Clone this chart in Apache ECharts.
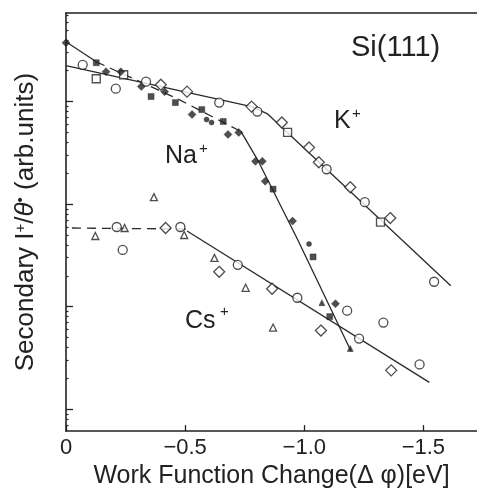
<!DOCTYPE html>
<html><head><meta charset="utf-8">
<script src="https://cdn.jsdelivr.net/npm/echarts@6/dist/echarts.min.js"></script>
<style>html,body{margin:0;padding:0;background:#fff}#c{width:477px;height:494px}</style>
</head><body><div id="c"></div>
<script>
// ---- axis ticks ----
const xTicks = [0, -0.5, -1.0, -1.5];
const xTickLabels = ['0', '\u22120.5', '\u22121.0', '\u22121.5'];
const yMajorTicks = [0, 1, 2, 3];   // decades (log scale, unlabeled)

// ---- K+ (open markers) ----
const kCircle  = [[-0.070,3.359],[-0.209,3.126],[-0.336,3.194],[-0.643,2.990],[-0.803,2.903],[-1.094,2.340],[-1.254,2.019],[-1.545,1.243]];
const kDiamond = [[-0.398,3.165],[-0.508,3.097],[-0.779,2.951],[-0.906,2.796],[-1.020,2.553],[-1.061,2.408],[-1.193,2.165],[-1.361,1.864]];
const kSquare  = [[-0.127,3.223],[-0.242,3.262],[-0.930,2.699],[-1.320,1.825]];
const kLine    = [[0,3.350],[-0.779,2.951],[-0.844,2.883],[-1.615,1.204]];

// ---- Na+ (filled markers) ----
const naDiamond  = [[0.0,3.573],[-0.168,3.291],[-0.230,3.291],[-0.316,3.146],[-0.414,3.097],[-0.529,2.874],[-0.680,2.680],[-0.725,2.699],[-0.795,2.417],[-0.824,2.417],[-0.836,2.223],[-0.951,1.835],[-1.131,1.029]];
const naSquare   = [[-0.127,3.379],[-0.357,3.049],[-0.459,2.990],[-0.570,2.922],[-0.660,2.806],[-0.869,2.146],[-1.037,1.485],[-1.107,0.903]];
const naDot      = [[-0.590,2.825],[-0.611,2.796],[-1.020,1.612]];
const naTriangle = [[-1.074,1.039],[-1.193,0.592]];
const naLineTop    = [[0,3.583],[-0.127,3.388]];
const naLineDashed = [[-0.127,3.388],[-0.467,3.029],[-0.734,2.709]];
const naLineSteep  = [[-0.734,2.709],[-0.803,2.437],[-0.971,1.660],[-1.197,0.563]];

// ---- Cs+ (open markers) ----
const csTriangle = [[-0.369,2.068],[-0.123,1.689],[-0.246,1.767],[-0.496,1.699],[-0.623,1.476],[-0.754,1.184],[-0.869,0.796]];
const csCircle   = [[-0.213,1.777],[-0.238,1.553],[-0.480,1.777],[-0.721,1.408],[-0.971,1.087],[-1.180,0.961],[-1.332,0.845],[-1.484,0.437],[-1.230,0.689]];
const csDiamond  = [[-0.418,1.767],[-0.643,1.340],[-0.865,1.175],[-1.070,0.767],[-1.365,0.379]];
const csLineDashed = [[-0.025,1.767],[-0.508,1.757]];
const csLineSolid  = [[-0.508,1.738],[-1.525,0.262]];

const INK = '#222';
const FONT = 'Liberation Sans, Arial, sans-serif';
const X_MIN = -1.725, Y_MIN = -0.2136, Y_MAX = 3.864;

const yMinorTicks = [];
for (let n = -1; n <= 3; n++) for (let k = 2; k <= 9; k++) {
  const v = n + Math.log10(k);
  if (v > Y_MIN && v < Y_MAX) yMinorTicks.push(v);
}

function openScatter(data, symbol, size) {
  return { type: 'scatter', data, symbol, symbolSize: size, z: 5,
    itemStyle: { color: '#fff', borderColor: INK, borderWidth: 1.3 } };
}
function filledScatter(data, symbol, size) {
  return { type: 'scatter', data, symbol, symbolSize: size, z: 6,
    itemStyle: { color: INK, borderColor: INK, borderWidth: 0.5 } };
}
function line(data, dashed) {
  return { type: 'line', data, symbol: 'none', z: 3, silent: true,
    lineStyle: { color: '#2a2a2a', width: 1.3, type: dashed ? [9, 6] : 'solid' } };
}

const chart = echarts.init(document.getElementById('c'));
chart.setOption({
  animation: false,
  backgroundColor: '#fff',
  grid: { left: 66, right: -10, top: 13, bottom: 61, containLabel: false },
  xAxis: [
    { type: 'value', min: X_MIN, max: 0, inverse: true, position: 'bottom',
      axisLine: { show: true, onZero: false, lineStyle: { color: INK, width: 1.6 } },
      axisTick: { show: true, inside: true, length: 6, customValues: xTicks, lineStyle: { color: INK, width: 1.3 } },
      axisLabel: { customValues: xTicks, margin: 6, fontSize: 22, color: INK, fontFamily: FONT,
        formatter: v => { const i = xTicks.findIndex(t => Math.abs(t - v) < 1e-9); return i >= 0 ? xTickLabels[i] : ''; } },
      splitLine: { show: false },
      name: 'Work Function Change(\u0394 \u03c6)[eV]', nameLocation: 'middle', nameGap: 30,
      nameTextStyle: { fontSize: 25, color: INK, fontFamily: FONT } },
    { type: 'value', min: X_MIN, max: 0, inverse: true, position: 'top',
      axisLine: { show: true, onZero: false, lineStyle: { color: INK, width: 1.6 } },
      axisTick: { show: false }, axisLabel: { show: false }, splitLine: { show: false } }
  ],
  yAxis: [
    { type: 'value', min: Y_MIN, max: Y_MAX, position: 'left',
      axisLine: { show: true, onZero: false, lineStyle: { color: INK, width: 1.6 } },
      axisTick: { show: true, inside: true, length: 7, customValues: yMajorTicks, lineStyle: { color: INK, width: 1.3 } },
      axisLabel: { show: false }, splitLine: { show: false },
      name: 'Secondary I{sup|+}/{it|\u03b8}{sup|\u2022} (arb.units)', nameLocation: 'middle', nameGap: 27,
      nameTextStyle: { fontSize: 26, color: INK, fontFamily: FONT,
        rich: { sup: { fontSize: 15, color: INK, fontFamily: FONT, verticalAlign: 'top', lineHeight: 26 },
                it: { fontSize: 26, color: INK, fontFamily: FONT, fontStyle: 'italic' } } } },
    { type: 'value', min: Y_MIN, max: Y_MAX, position: 'left',
      axisLine: { show: false, onZero: false },
      axisTick: { show: true, inside: true, length: 2.5, customValues: yMinorTicks, lineStyle: { color: INK, width: 1.2 } },
      axisLabel: { show: false }, splitLine: { show: false } }
  ],
  series: [
    line(kLine, false),
    line(naLineTop, false),
    line(naLineDashed, true),
    line(naLineSteep, false),
    line(csLineDashed, true),
    line(csLineSolid, false),
    openScatter(kCircle, 'circle', 9),
    openScatter(kDiamond, 'diamond', 11),
    openScatter(kSquare, 'rect', 8),
    filledScatter(naDiamond, 'diamond', 8),
    filledScatter(naSquare, 'rect', 6),
    filledScatter(naDot, 'circle', 5),
    filledScatter(naTriangle, 'triangle', 6),
    openScatter(csTriangle, 'triangle', 7),
    openScatter(csCircle, 'circle', 9),
    openScatter(csDiamond, 'diamond', 11)
  ],
  graphic: [
    { type: 'text', left: 351, top: 33, style: { text: 'Si(111)', font: '29px ' + FONT, fill: INK } },
    { type: 'text', left: 334, top: 109, style: { text: 'K', font: '25px ' + FONT, fill: INK } },
    { type: 'text', left: 352, top: 106, style: { text: '+', font: '15px ' + FONT, fill: INK } },
    { type: 'text', left: 165, top: 144, style: { text: 'Na', font: '25px ' + FONT, fill: INK } },
    { type: 'text', left: 199, top: 141, style: { text: '+', font: '15px ' + FONT, fill: INK } },
    { type: 'text', left: 185, top: 309, style: { text: 'Cs', font: '25px ' + FONT, fill: INK } },
    { type: 'text', left: 220, top: 304, style: { text: '+', font: '15px ' + FONT, fill: INK } }
  ]
});
</script>
</body></html>
